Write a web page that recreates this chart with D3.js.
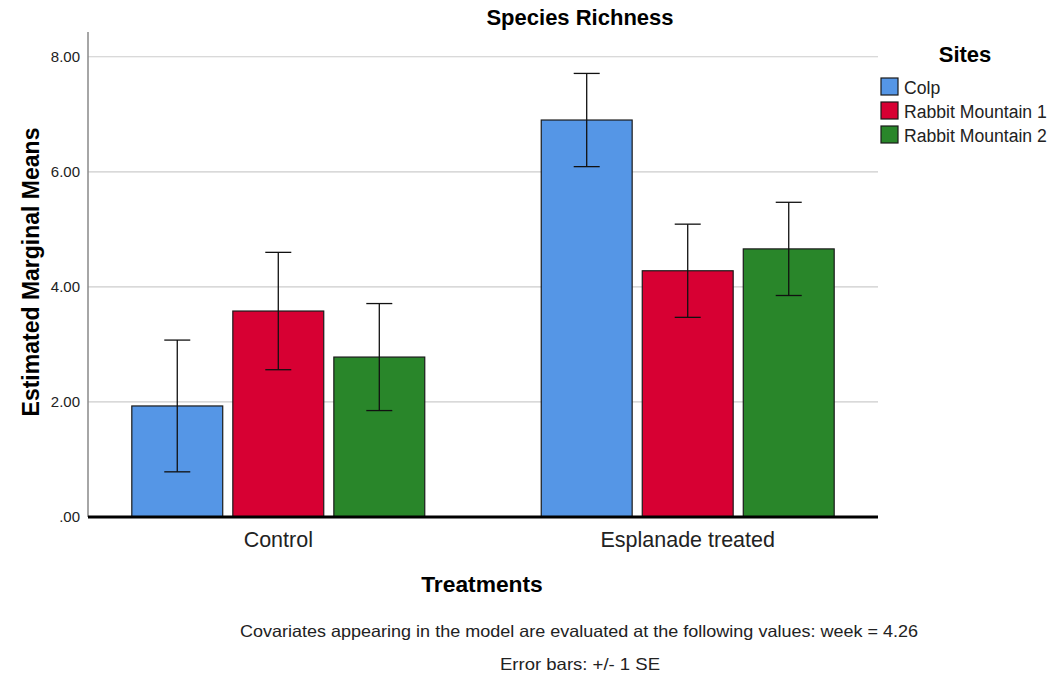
<!DOCTYPE html>
<html><head><meta charset="utf-8">
<script src="https://cdn.jsdelivr.net/npm/d3@7"></script>
<style>body{margin:0;background:#fff}svg{display:block}text{font-family:"Liberation Sans",Arial,sans-serif}</style>
</head><body>
<svg id="c" width="1053" height="679"></svg>
<script>
const treatments = ["Control", "Esplanade treated"];
const sites = ["Colp", "Rabbit Mountain 1", "Rabbit Mountain 2"];
const colors = ["#5596e6", "#d70033", "#29862a"];
const means = [[1.93, 3.58, 2.78], [6.90, 4.28, 4.66]];
const se = [[1.145, 1.02, 0.93], [0.81, 0.81, 0.81]];
const yTicks = [0, 2, 4, 6, 8];

const svg = d3.select("#c");
const L = 88, R = 878, T = 32, B = 517;
const y = d3.scaleLinear().domain([0, 8.43]).range([B, T]);
const x0 = d3.scaleBand().domain(treatments).range([L, R]).paddingInner(0.2845).paddingOuter(0.107);
const x1 = d3.scaleBand().domain(sites).range([0, x0.bandwidth()]).paddingInner(0.1).paddingOuter(0);
const color = d3.scaleOrdinal().domain(sites).range(colors);

// gridlines
svg.append("g").selectAll("line").data(yTicks.filter(d => d > 0)).join("line")
  .attr("x1", L).attr("x2", R).attr("y1", d => y(d)).attr("y2", d => y(d))
  .attr("stroke", "#cccccc").attr("stroke-width", 1.2);

// y axis
const ya = svg.append("g").attr("transform", `translate(${L},0)`)
  .call(d3.axisLeft(y).tickValues(yTicks).tickSize(0).tickPadding(8)
    .tickFormat(d => d === 0 ? ".00" : d3.format(".2f")(d)));
ya.select(".domain").remove();
ya.selectAll("text").attr("font-size", 15).attr("fill", "#222").attr("font-family", "Liberation Sans, Arial, sans-serif");
svg.append("line").attr("x1", L).attr("x2", L).attr("y1", T).attr("y2", B)
  .attr("stroke", "#888").attr("stroke-width", 1.5);

// bars
const data = [];
treatments.forEach((t, i) => sites.forEach((s, j) => data.push({t, s, m: means[i][j], e: se[i][j]})));
const g = svg.append("g");
g.selectAll("rect").data(data).join("rect")
  .attr("x", d => x0(d.t) + x1(d.s)).attr("width", x1.bandwidth())
  .attr("y", d => y(d.m)).attr("height", d => B - y(d.m))
  .attr("fill", d => color(d.s)).attr("stroke", "#1a1a1a").attr("stroke-width", 1.2);

// error bars
const eb = svg.append("g").attr("stroke", "#111").attr("stroke-width", 1.3);
data.forEach(d => {
  const cx = x0(d.t) + x1(d.s) + x1.bandwidth() / 2;
  eb.append("line").attr("x1", cx).attr("x2", cx).attr("y1", y(d.m + d.e)).attr("y2", y(d.m - d.e));
  [d.m + d.e, d.m - d.e].forEach(v => eb.append("line").attr("x1", cx - 13).attr("x2", cx + 13).attr("y1", y(v)).attr("y2", y(v)));
});

// x axis
svg.append("line").attr("x1", L).attr("x2", R).attr("y1", B).attr("y2", B).attr("stroke", "#000").attr("stroke-width", 3);
const xa = svg.append("g").attr("transform", `translate(0,${B})`)
  .call(d3.axisBottom(x0).tickSize(0).tickPadding(0));
xa.select(".domain").remove();
xa.selectAll("text").attr("font-size", 21.5).attr("fill", "#222").attr("dy", null).attr("y", 30)
  .attr("font-family", "Liberation Sans, Arial, sans-serif");

// titles
svg.append("text").attr("x", 580).attr("y", 25).attr("text-anchor", "middle")
  .attr("font-size", 22).attr("font-weight", "bold").text("Species Richness");
svg.append("text").attr("x", 482).attr("y", 592).attr("text-anchor", "middle")
  .attr("font-size", 22.8).attr("font-weight", "bold").text("Treatments");
svg.append("text").attr("transform", "translate(39,272) rotate(-90)").attr("text-anchor", "middle")
  .attr("font-size", 23).attr("font-weight", "bold").text("Estimated Marginal Means");

// legend
svg.append("text").attr("x", 965).attr("y", 62).attr("text-anchor", "middle")
  .attr("font-size", 22).attr("font-weight", "bold").text("Sites");
const lg = svg.append("g").selectAll("g").data(sites).join("g")
  .attr("transform", (d, i) => `translate(881,${78 + i * 24})`);
lg.append("rect").attr("width", 17).attr("height", 17).attr("fill", d => color(d))
  .attr("stroke", "#1a1a1a").attr("stroke-width", 1.2);
lg.append("text").attr("x", 23).attr("y", 16).attr("font-size", 17.6).attr("fill", "#222").text(d => d);

// footnotes
svg.append("text").attr("x", 579).attr("y", 637).attr("text-anchor", "middle")
  .attr("font-size", 16.5).attr("fill", "#222").attr("textLength", 678).attr("lengthAdjust", "spacingAndGlyphs")
  .text("Covariates appearing in the model are evaluated at the following values: week = 4.26");
svg.append("text").attr("x", 580).attr("y", 670).attr("text-anchor", "middle")
  .attr("font-size", 16.5).attr("fill", "#222").attr("textLength", 160).attr("lengthAdjust", "spacingAndGlyphs")
  .text("Error bars: +/- 1 SE");
</script>
</body></html>
